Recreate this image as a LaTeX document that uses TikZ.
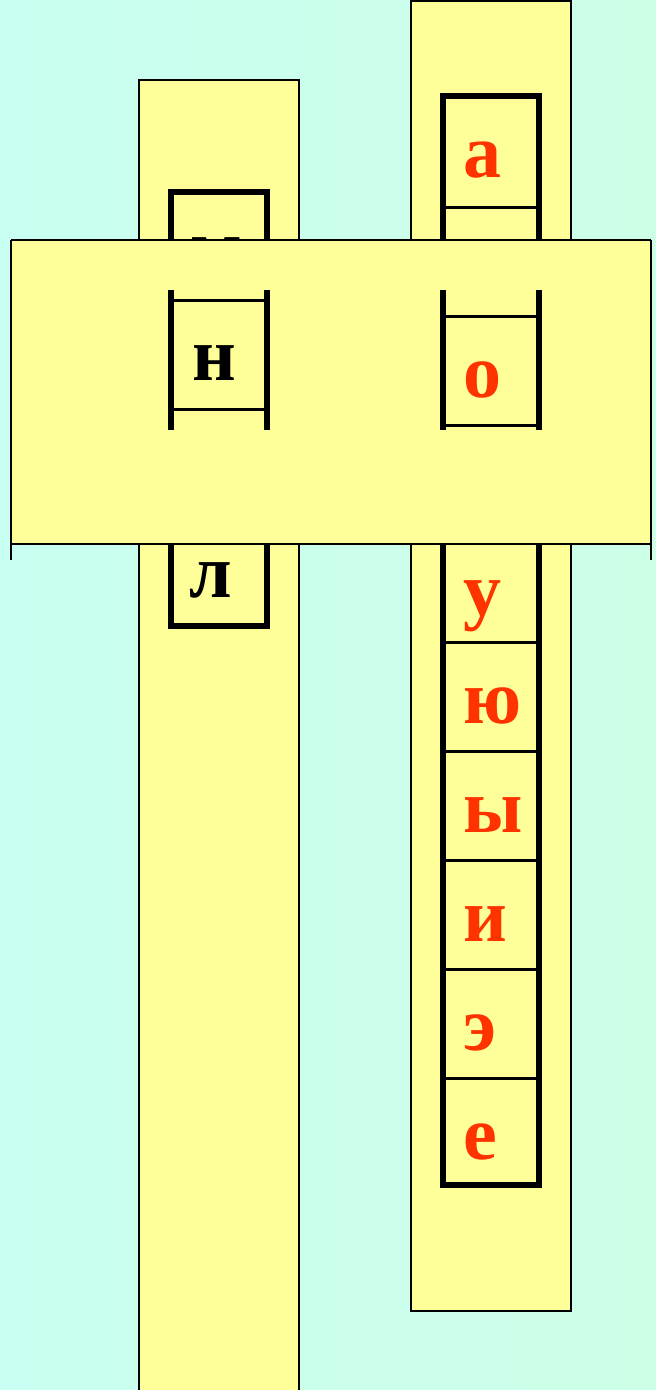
\documentclass[tikz,border=0pt]{standalone}
\usepackage{fontspec}
\setmainfont{Liberation Serif}
\usepackage{tikz}
\usetikzlibrary{positioning}

\definecolor{bgleft}{HTML}{C9FFF2}
\definecolor{bgmid}{HTML}{CCFFFF}
\definecolor{bgright}{HTML}{CCFFE6}
\definecolor{tapeyellow}{HTML}{FFFF99}
\definecolor{vowelred}{HTML}{FF3300}

\begin{document}
\begin{tikzpicture}[x=1pt,y=-1pt,
  strip/.style={draw=black,line width=2.5pt,fill=tapeyellow},
  cellbox/.style={draw=black,line width=6.5pt},
  cellline/.style={draw=black,line width=3pt},
  letter/.style={anchor=base west,inner sep=0pt,font=\bfseries\fontsize{76}{80}\selectfont}]
 \clip (0,0) rectangle (656,1390);
 \shade[left color=bgleft,middle color=bgmid,right color=bgright](0,0) rectangle (656,1390);
 % the two long strips
 \draw[strip](139,80) rectangle (299,1400);
 \draw[strip](411,1) rectangle (571,1311);
 % left tape: consonants
 \draw[cellbox](171,192) rectangle (267,626);
 \foreach \y in {300,409,518} \draw[cellline](171,\y)--(267,\y);
 \node[letter,text=black] (m) at (190,272.5) {м};
 \node[letter,text=black] (l) at (189,597) {л};
 % right tape: vowels
 \draw[cellbox](443,96) rectangle (539,1185);
 \foreach \y in {207,316,425,534,642,751,860,969,1078} \draw[cellline](443,\y)--(539,\y);
 \foreach \ch/\base/\nm in {а/177/a,у/615/u,ю/723/yu,ы/832/y,и/941/i,э/1050/e,е/1159/ye}
  \node[letter,text=vowelred] (\nm) at (463,\base) {\ch};
 % sliding band
 \fill[tapeyellow](11,240) rectangle (651,544);
 \draw[line width=2.5pt](11,240)--(651,240);
 \draw[line width=2.5pt](11,544)--(651,544);
 \draw[line width=2.5pt](11,240)--(11,560);
 \draw[line width=2.5pt](651,240)--(651,560);
 % windows in the band
 \draw[cellbox](171,290)--(171,430);
 \draw[cellbox](267,290)--(267,430);
 \draw[cellline](171,300)--(267,300);
 \draw[cellline](171,409)--(267,409);
 \node[letter,text=black] (n) at (192,380) {н};
 \draw[cellbox](443,290)--(443,430);
 \draw[cellbox](539,290)--(539,430);
 \draw[cellline](443,316)--(539,316);
 \draw[cellline](443,425)--(539,425);
 \node[letter,text=vowelred] (o) at (463,397) {о};
\end{tikzpicture}
\end{document}
